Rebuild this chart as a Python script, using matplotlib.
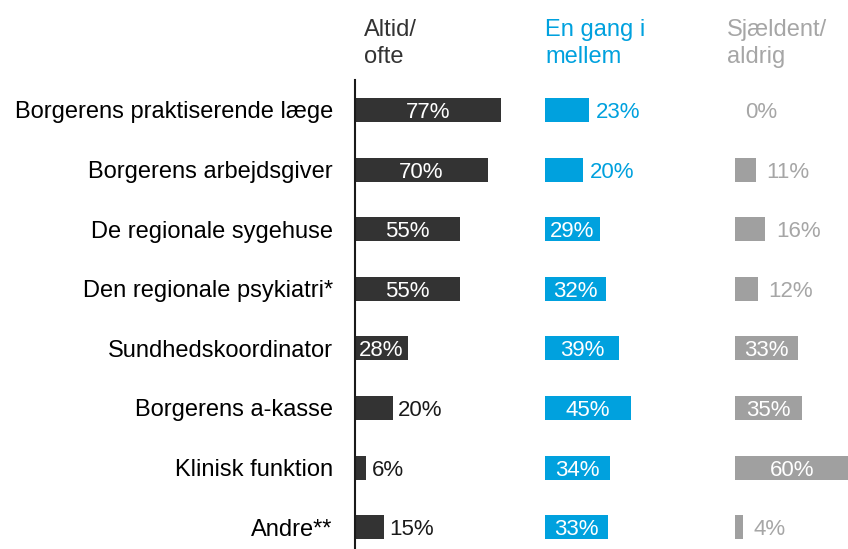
import matplotlib.pyplot as plt
from matplotlib.transforms import blended_transform_factory

plt.rcParams['font.family'] = ['Liberation Sans', 'DejaVu Sans']

kategorier = ["Borgerens praktiserende læge", "Borgerens arbejdsgiver",
              "De regionale sygehuse", "Den regionale psykiatri*",
              "Sundhedskoordinator", "Borgerens a-kasse",
              "Klinisk funktion", "Andre**"]
altid_ofte = [77, 70, 55, 55, 28, 20, 6, 15]
en_gang_i_mellem = [23, 20, 29, 32, 39, 45, 34, 33]
sjaeldent_aldrig = [0, 11, 16, 12, 33, 35, 60, 4]

overskrifter = ["Altid/\nofte", "En gang i\nmellem", "Sjældent/\naldrig"]
farver = ["#333333", "#00A1DE", "#A0A0A0"]
tekstfarver = ["#1a1a1a", "#00A1DE", "#A6A6A6"]
afstand = [2.8, 3.6, 5.5]  # luft mellem søjle og tal udenfor

W, H = 848, 549
fig = plt.figure(figsize=(W / 100, H / 100), dpi=100)
ax = fig.add_axes([355 / W, 0, 493 / W, (H - 80) / H])

# hver kolonne er 100 enheder bred, 1.9 px pr. procentpoint
ax.set_xlim(0, 493 / 1.9)
ax.set_ylim(7.366, -0.503)

rows = range(len(kategorier))
serier = [altid_ofte, en_gang_i_mellem, sjaeldent_aldrig]
for k, (vals, farve, tf) in enumerate(zip(serier, farver, tekstfarver)):
    x0 = k * 100
    ax.barh(list(rows), vals, left=x0, height=0.40, color=farve)
    for i, v in enumerate(vals):
        if v >= 25:
            ax.text(x0 + v / 2, i, f"{v}%", ha='center', va='center_baseline',
                    color='white', fontsize=16)
        else:
            ax.text(x0 + v + afstand[k], i, f"{v}%", ha='left',
                    va='center_baseline', color=tf, fontsize=16)

# kolonneoverskrifter: x i data, y i figurkoordinater (sidste linjes grundlinje)
trans = blended_transform_factory(ax.transData, fig.transFigure)
hx = [4.7, 100, 195.8]
for x, tekst, tf in zip(hx, overskrifter, [farver[0], farver[1], tekstfarver[2]]):
    ax.text(x, 1 - 63 / H, tekst, transform=trans, ha='left', va='baseline',
            fontsize=17, color=tf, linespacing=1.3)

ax.set_yticks(list(rows))
ax.set_yticklabels(kategorier, fontsize=17, color='black')
ax.tick_params(axis='y', length=0, pad=16)
ax.set_xticks([])

for s in ['top', 'right', 'bottom']:
    ax.spines[s].set_visible(False)
ax.spines['left'].set_color('#1a1a1a')
ax.spines['left'].set_linewidth(1.5)

fig.savefig("out.png", dpi=100)
